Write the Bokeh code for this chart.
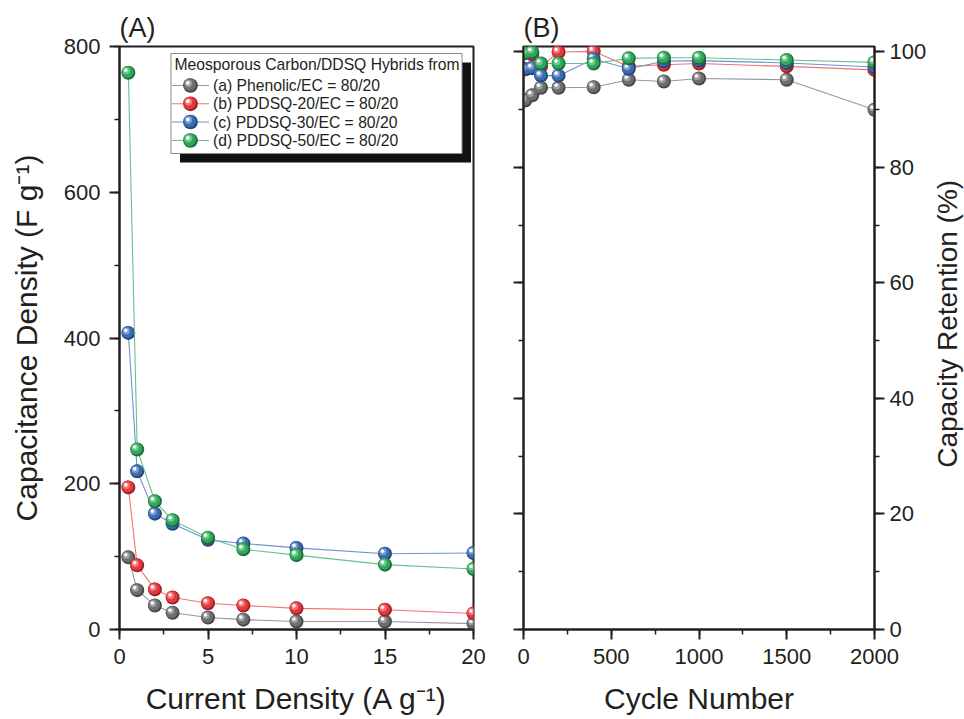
import math
from bokeh.plotting import figure
from bokeh.models import Range1d, LinearAxis, SingleIntervalTicker, CustomJSTickFormatter
from bokeh.layouts import row
from bokeh.embed import file_html
from bokeh.resources import INLINE
from bokeh.core.properties import value

# ---------------- data ----------------
current_density = [0.5, 1, 2, 3, 5, 7, 10, 15, 20]          # A g^-1
cap_phenolic = [99, 54, 33, 23, 16.5, 13.5, 11, 11, 8]       # F g^-1
cap_pddsq20 = [195, 88, 55, 44, 36, 33, 29, 27, 22]
cap_pddsq30 = [407, 217, 159, 145, 123, 118, 112, 104, 105]
cap_pddsq50 = [764, 247, 176, 150, 126, 110, 102, 89, 83]

cycle_number = [10, 50, 100, 200, 400, 600, 800, 1000, 1500, 2000]
ret_phenolic = [91.6, 92.5, 93.8, 93.8, 93.9, 95.2, 94.9, 95.4, 95.2, 90.0]   # %
ret_pddsq20 = [97.0, 99.6, 97.5, 100.0, 100.1, 97.5, 97.8, 98.0, 97.5, 96.9]
ret_pddsq30 = [97.0, 97.2, 95.9, 95.9, 98.8, 97.1, 98.4, 98.5, 98.1, 97.4]
ret_pddsq50 = [99.8, 100.0, 98.0, 98.0, 98.0, 98.9, 99.0, 99.0, 98.6, 98.2]

series_labels = ["(a) Phenolic/EC = 80/20", "(b) PDDSQ-20/EC = 80/20",
                 "(c) PDDSQ-30/EC = 80/20", "(d) PDDSQ-50/EC = 80/20"]
legend_title = "Meosporous Carbon/DDSQ Hybrids from"
right_axis_title = "Capacity Retention (%)"

# ---------------- style ----------------
FONT = "Liberation Sans"
INK = "#231f20"
marker_colors = ["#6d6e71", "#e8373b", "#3a6cb5", "#2ea85a"]
line_colors = ["#97989a", "#f07476", "#6f92cc", "#66c28d"]

PAGE_W, PAGE_H = 964, 719
FRAME_H = 583
FRAME_W = 354
X_MAX_A, Y_MAX_A = 20, 800
X_MAX_B, Y_MAX_B = 2000, 100.95
WIDTH_A = 119 + FRAME_W + 24
WIDTH_B = 26 + FRAME_W + 52


def mix(hexcol, target, f):
    h = hexcol.lstrip("#")
    r, g, b = (int(h[i:i + 2], 16) for i in (0, 2, 4))
    t = 255 if target == "white" else 0
    r, g, b = (int(round(c + (t - c) * f)) for c in (r, g, b))
    return "#%02x%02x%02x" % (r, g, b)


def sphere(p, xs, ys, color, ux, uy, scale=1.0, **kw):
    """glossy ball: ux, uy = data units per screen pixel"""
    layers = [
        (0.0, 0.0, 14.0, mix(color, "black", 0.35), 1.0),
        (-0.8, 0.8, 12.0, color, 1.0),
        (-1.9, 1.9, 7.0, mix(color, "white", 0.45), 0.75),
        (-2.5, 2.5, 3.6, "#ffffff", 0.95),
    ]
    for ox, oy, size, fill, alpha in layers:
        p.scatter([x + ox * scale * ux for x in xs], [y + oy * scale * uy for y in ys],
                  size=size * scale, fill_color=fill, fill_alpha=alpha, line_color=None, **kw)


def style_axis(ax, interval, title=None, labels=True, title_standoff=12, label_standoff=9):
    ax.ticker = SingleIntervalTicker(interval=interval, num_minor_ticks=2)
    ax.axis_line_color = INK
    ax.axis_line_width = 2
    ax.major_tick_line_color = INK
    ax.major_tick_line_width = 2
    ax.minor_tick_line_color = INK
    ax.minor_tick_line_width = 1.5
    ax.major_tick_in = 0
    ax.major_tick_out = 10
    ax.minor_tick_in = 0
    ax.minor_tick_out = 5
    ax.major_label_text_font = FONT
    ax.major_label_text_font_size = "22px"
    ax.major_label_text_color = INK
    ax.major_label_standoff = label_standoff
    if not labels:
        ax.formatter = CustomJSTickFormatter(code="return ''")
    if title is not None:
        ax.axis_label = title
        ax.axis_label_text_font = FONT
        ax.axis_label_text_font_size = "30px"
        ax.axis_label_text_font_style = "normal"
        ax.axis_label_text_color = INK
        ax.axis_label_standoff = title_standoff


def base_fig(title, width, x_range, y_range, **kw):
    p = figure(width=width, height=PAGE_H, x_range=x_range, y_range=y_range,
               output_backend="svg", toolbar_location=None, title=title,
               min_border_top=46, min_border_bottom=PAGE_H - 46 - FRAME_H, **kw)
    p.grid.visible = False
    p.outline_line_color = INK
    p.outline_line_width = 2
    p.outline_line_alpha = 1
    p.background_fill_color = "white"
    p.border_fill_color = "white"
    p.title.text_font = FONT
    p.title.text_font_size = "27px"
    p.title.text_font_style = "normal"
    p.title.text_color = INK
    p.title.align = "left"
    p.title.standoff = 8
    return p


# ---------------- panel A ----------------
pA = base_fig("(A)", WIDTH_A, Range1d(0, X_MAX_A), Range1d(0, Y_MAX_A),
              min_border_left=119, min_border_right=24)
style_axis(pA.xaxis[0], 5, "Current Density (A g\u207b\u00b9)", title_standoff=15)
style_axis(pA.yaxis[0], 200, "Capacitance Density (F g\u207b\u00b9)", title_standoff=18)

uxA = X_MAX_A / FRAME_W
uyA = Y_MAX_A / FRAME_H
for ys, mc, lc in zip([cap_phenolic, cap_pddsq20, cap_pddsq30, cap_pddsq50], marker_colors, line_colors):
    pA.line(current_density, ys, line_color=lc, line_width=1.1)
    sphere(pA, current_density, ys, mc, uxA, uyA)

# legend drawn in frame-pixel coordinates (y measured upward from frame bottom)
pA.extra_x_ranges = {"lx": Range1d(0, FRAME_W)}
pA.extra_y_ranges = {"ly": Range1d(0, FRAME_H)}
LK = dict(x_range_name="lx", y_range_name="ly")
LEG_L, LEG_T, LEG_W, LEG_H, SHADOW = 51.5, 7, 291, 100, 9
row_offsets = [32, 50.3, 68.5, 87]

pA.quad(left=[LEG_L + SHADOW], right=[LEG_L + LEG_W + SHADOW],
        top=[FRAME_H - LEG_T - SHADOW], bottom=[FRAME_H - LEG_T - LEG_H - SHADOW],
        fill_color="#111111", line_color=None, **LK)
pA.quad(left=[LEG_L], right=[LEG_L + LEG_W], top=[FRAME_H - LEG_T], bottom=[FRAME_H - LEG_T - LEG_H],
        fill_color="white", line_color="#8c8c8c", line_width=1, **LK)
pA.text(x=[LEG_L + 3.5], y=[FRAME_H - LEG_T - 11], text=[legend_title],
        text_font=value(FONT), text_font_size="15.7px", text_color=INK,
        text_baseline="middle", text_align="left", **LK)
for off, lab, mc, lc in zip(row_offsets, series_labels, marker_colors, line_colors):
    yy = FRAME_H - LEG_T - off
    pA.line([LEG_L + 1, LEG_L + 38], [yy, yy], line_color=lc, line_width=1.1, **LK)
    sphere(pA, [LEG_L + 19.5], [yy], mc, 1, 1, scale=1.05, **LK)
    pA.text(x=[LEG_L + 42], y=[yy], text=[lab], text_font=value(FONT), text_font_size="15.7px",
            text_color=INK, text_baseline="middle", text_align="left", **LK)

# ---------------- panel B ----------------
pB = base_fig("(B)", WIDTH_B, Range1d(0, X_MAX_B), Range1d(0, Y_MAX_B),
              y_axis_location="right", min_border_left=26, min_border_right=52)
style_axis(pB.xaxis[0], 500, "Cycle Number", title_standoff=15)
style_axis(pB.yaxis[0], 20, None, label_standoff=5)
left_axis = LinearAxis()
style_axis(left_axis, 20, None, labels=False)
pB.add_layout(left_axis, "left")

uxB = X_MAX_B / FRAME_W
uyB = Y_MAX_B / FRAME_H
for ys, mc, lc in zip([ret_phenolic, ret_pddsq20, ret_pddsq30, ret_pddsq50], marker_colors, line_colors):
    pB.line(cycle_number, ys, line_color=lc, line_width=1.1)
    sphere(pB, cycle_number, ys, mc, uxB, uyB)

# ---------------- strip holding the right-hand axis title (reads bottom-to-top) ----------------
STRIP_W = PAGE_W - WIDTH_A - WIDTH_B
pC = figure(width=STRIP_W, height=PAGE_H, x_range=Range1d(0, STRIP_W), y_range=Range1d(0, PAGE_H),
            output_backend="svg", toolbar_location=None, min_border=0)
pC.axis.visible = False
pC.grid.visible = False
pC.outline_line_color = None
pC.background_fill_color = "white"
pC.border_fill_color = "white"
pC.text(x=[STRIP_W / 2], y=[PAGE_H - 342], text=[right_axis_title], angle=math.pi / 2,
        text_font=value(FONT), text_font_size="28px", text_color=INK,
        text_align="center", text_baseline="middle")

layout = row(pA, pB, pC, spacing=0)
open("out.html", "w").write(file_html(layout, INLINE))
